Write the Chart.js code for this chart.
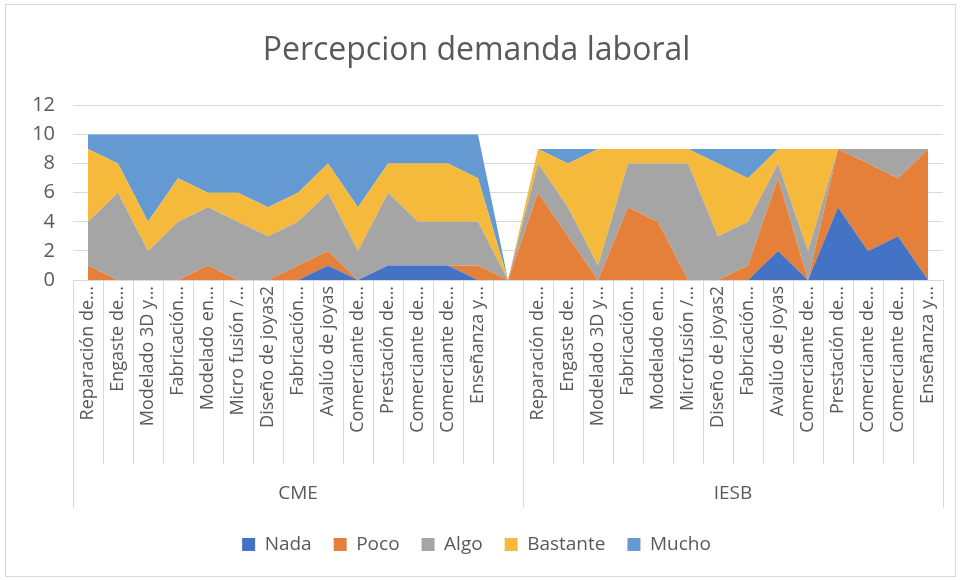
<!DOCTYPE html>
<html lang="es">
<head>
  <meta charset="UTF-8">
  <title>Percepcion demanda laboral</title>
  <script src="https://cdn.jsdelivr.net/npm/chart.js"></script>
  <style>
    body { margin: 0; background: #fff; }
    #wrap { width: 960px; height: 580px; }
  </style>
</head>
<body>
  <div id="wrap"><canvas id="chart" width="960" height="580"></canvas></div>

  <script>
    // categorias por grupo
    const groups = ['CME', 'IESB'];
    const cmeLabels = ['Reparación de…', 'Engaste de…', 'Modelado 3D y…', 'Fabricación…', 'Modelado en…',
      'Micro fusión /…', 'Diseño de joyas2', 'Fabricación…', 'Avalúo de joyas', 'Comerciante de…',
      'Prestación de…', 'Comerciante de…', 'Comerciante de…', 'Enseñanza y…', ''];
    const iesbLabels = ['Reparación de…', 'Engaste de…', 'Modelado 3D y…', 'Fabricación…', 'Modelado en…',
      'Microfusión /…', 'Diseño de joyas2', 'Fabricación…', 'Avalúo de joyas', 'Comerciante de…',
      'Prestación de…', 'Comerciante de…', 'Comerciante de…', 'Enseñanza y…'];

    // valores (CME seguido de IESB)
    const nada     = [0,0,0,0,0,0,0,0,1,0,1,1,1,0,0,  0,0,0,0,0,0,0,0,2,0,5,2,3,0];
    const poco     = [1,0,0,0,1,0,0,1,1,0,0,0,0,1,0,  6,3,0,5,4,0,0,1,5,0,4,6,4,9];
    const algo     = [3,6,2,4,4,4,3,3,4,2,5,3,3,3,0,  2,2,1,3,4,8,3,3,1,2,0,1,2,0];
    const bastante = [5,2,2,3,1,2,2,2,2,3,2,4,4,3,0,  1,3,8,1,1,1,5,3,1,7,0,0,0,0];
    const mucho    = [1,2,6,3,4,4,5,4,2,5,2,2,2,3,0,  0,1,0,0,0,0,1,2,0,0,0,0,0,0];

    const yTicks = [0, 2, 4, 6, 8, 10, 12];

    const labels = cmeLabels.concat(iesbLabels);
    const groupSizes = [cmeLabels.length, iesbLabels.length];

    const series = [
      { name: 'Nada', data: nada, color: '#4472C4' },
      { name: 'Poco', data: poco, color: '#E5803A' },
      { name: 'Algo', data: algo, color: '#A5A5A5' },
      { name: 'Bastante', data: bastante, color: '#F5BA3C' },
      { name: 'Mucho', data: mucho, color: '#6499D1' }
    ];

    const FONT = "'Open Sans', 'Liberation Sans', sans-serif";
    const GREY = '#595959';
    const LINE = '#d9d9d9';

    // marco, eje x y categorias agrupadas
    const groupAxis = {
      id: 'groupAxis',
      beforeDraw(chart) {
        const ctx = chart.ctx;
        ctx.save();
        ctx.strokeStyle = LINE;
        ctx.lineWidth = 1;
        ctx.strokeRect(5.5, 4.5, 950, 572);
        ctx.restore();
      },
      afterDraw(chart) {
        const { ctx, chartArea } = chart;
        const x = chart.scales.x;
        const half = (x.getPixelForValue(1) - x.getPixelForValue(0)) / 2;
        const top = chartArea.bottom;
        const edge = i => i < labels.length
          ? x.getPixelForValue(i) - half
          : x.getPixelForValue(labels.length - 1) + half;
        const bounds = [0];
        groupSizes.forEach(n => bounds.push(bounds[bounds.length - 1] + n));

        ctx.save();
        ctx.strokeStyle = LINE;
        ctx.lineWidth = 1;
        ctx.beginPath();
        ctx.moveTo(chartArea.left, Math.round(top) + 0.5);
        ctx.lineTo(chartArea.right, Math.round(top) + 0.5);
        for (let i = 0; i <= labels.length; i++) {
          const px = Math.round(edge(i)) + 0.5;
          const isGroup = bounds.includes(i);
          ctx.moveTo(px, top);
          ctx.lineTo(px, top + (isGroup ? 228 : 184));
        }
        ctx.stroke();

        ctx.fillStyle = GREY;
        ctx.font = '19px ' + FONT;
        ctx.textAlign = 'center';
        ctx.textBaseline = 'middle';
        groups.forEach((g, k) => {
          const mid = (edge(bounds[k]) + edge(bounds[k + 1])) / 2;
          ctx.fillText(g, mid, top + 214);
        });
        ctx.restore();
      }
    };

    new Chart(document.getElementById('chart'), {
      type: 'line',
      data: {
        labels: labels,
        datasets: series.map((s, i) => ({
          label: s.name,
          data: s.data,
          backgroundColor: s.color,
          borderColor: s.color,
          borderWidth: 0,
          pointRadius: 0,
          pointHoverRadius: 0,
          tension: 0,
          fill: i === 0 ? 'origin' : '-1'
        }))
      },
      options: {
        responsive: false,
        animation: false,
        layout: { padding: { top: 0, left: 10, right: 17, bottom: 16 } },
        plugins: {
          title: {
            display: true,
            text: 'Percepcion demanda laboral',
            color: GREY,
            font: { family: FONT, size: 32, weight: 'normal' },
            padding: { top: 32, bottom: 35 }
          },
          legend: {
            position: 'bottom',
            labels: {
              color: GREY,
              font: { family: FONT, size: 19 },
              boxWidth: 13,
              boxHeight: 13,
              padding: 22
            }
          },
          tooltip: { enabled: false }
        },
        scales: {
          x: {
            offset: true,
            grid: { display: false, drawTicks: false },
            border: { display: false },
            ticks: {
              autoSkip: false,
              maxRotation: 90,
              minRotation: 90,
              padding: 6,
              color: GREY,
              font: { family: FONT, size: 18 }
            },
            afterFit(scale) { scale.height = 233; }
          },
          y: {
            stacked: true,
            min: 0,
            max: 12,
            afterBuildTicks(scale) { scale.ticks = yTicks.map(v => ({ value: v })); },
            grid: { color: LINE, drawTicks: false },
            border: { display: false },
            ticks: {
              padding: 18,
              color: GREY,
              font: { family: FONT, size: 20 }
            },
            afterFit(scale) { scale.width = 63; }
          }
        }
      },
      plugins: [groupAxis]
    });
  </script>
</body>
</html>
